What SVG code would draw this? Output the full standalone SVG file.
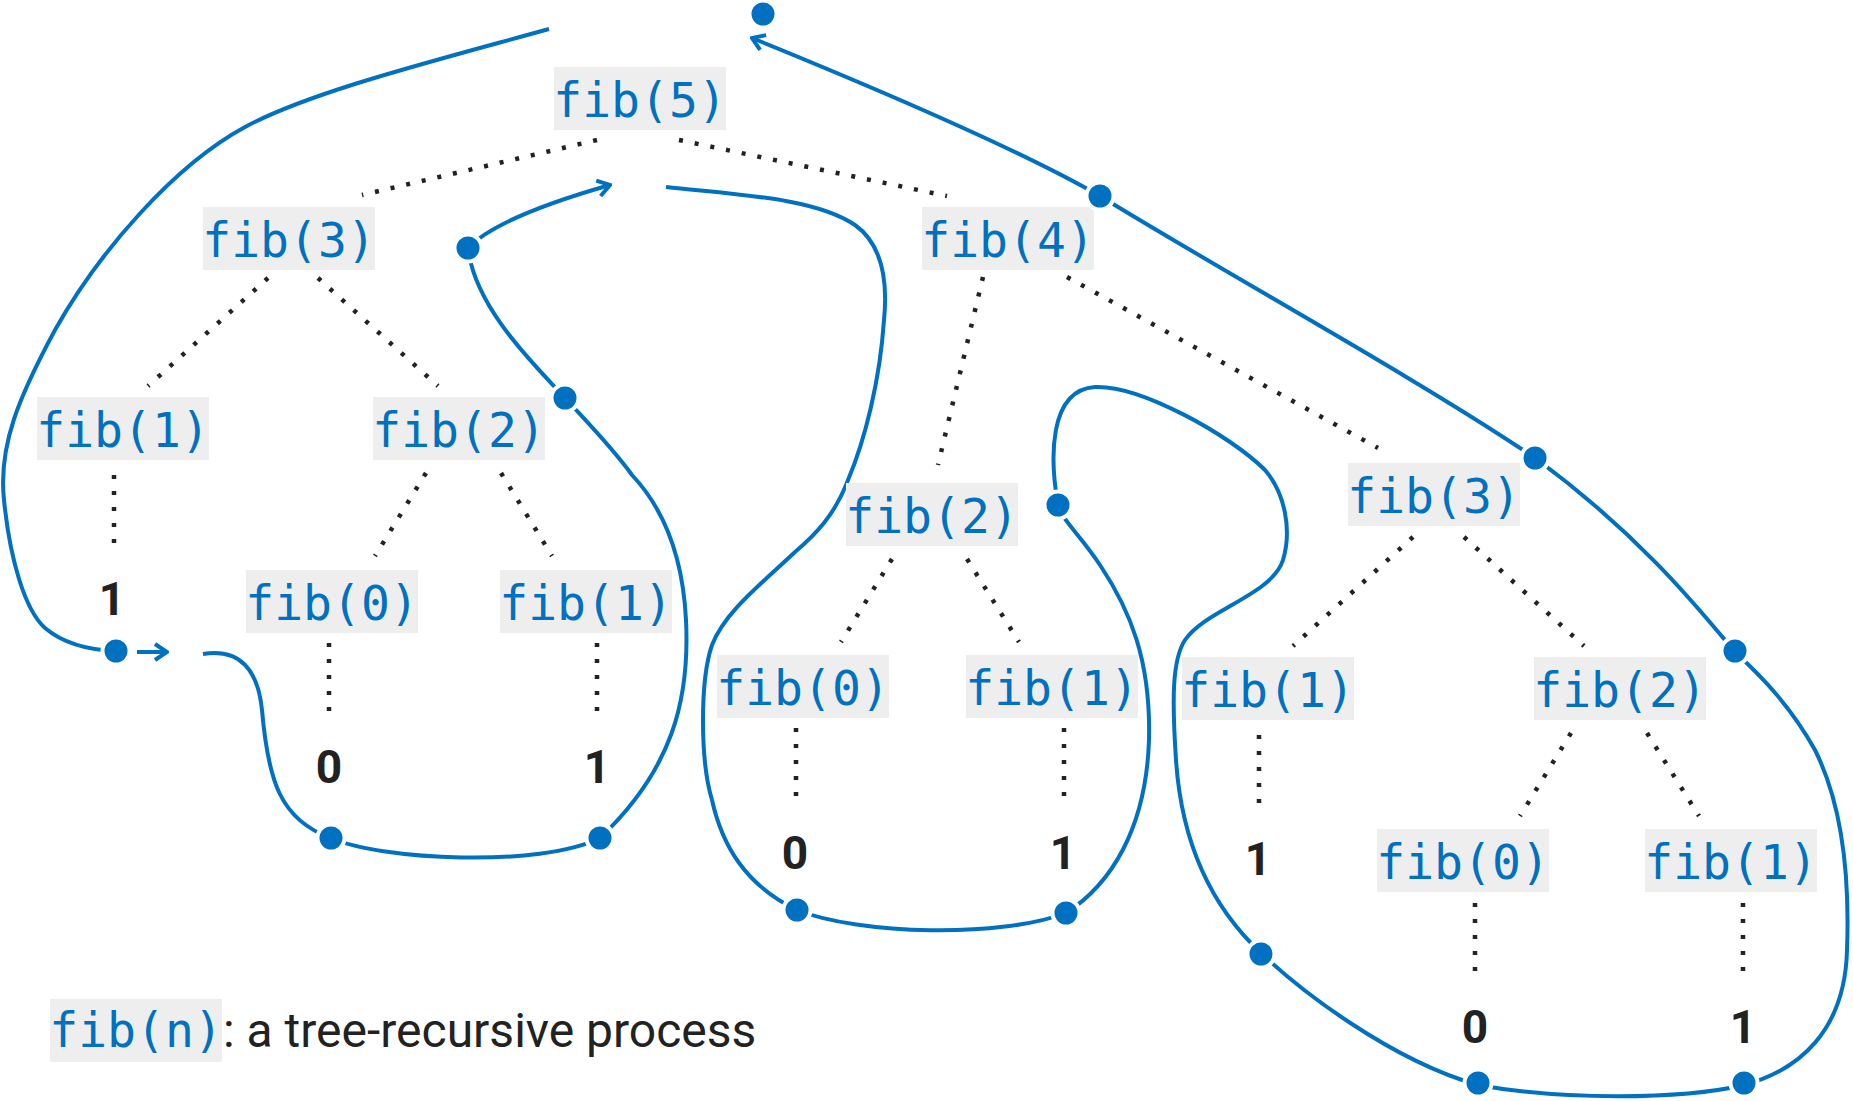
<svg xmlns="http://www.w3.org/2000/svg" width="1853" height="1101" viewBox="0 0 1853 1101">
  <style>
    .box { fill: #eeeeee; }
    .call { font-family: "DejaVu Sans Mono", "Liberation Mono", monospace; font-size: 48px; fill: #0070c0; text-anchor: middle; }
    .val { font-family: Roboto, "Liberation Sans", sans-serif; font-weight: bold; font-size: 46px; fill: #222222; text-anchor: middle; }
    .edge { stroke: #222222; stroke-width: 4.5; stroke-dasharray: 4 12; fill: none; }
    .tour { stroke: #0070c0; stroke-width: 4; fill: none; }
    .pt { fill: #0070c0; stroke: #ffffff; stroke-width: 4; }
    .caption { font-family: Roboto, "Liberation Sans", sans-serif; font-size: 48px; fill: #222222; }
  </style>
  <defs>
    <marker id="head" viewBox="-15 -10 17 20" refX="0" refY="0" markerWidth="17" markerHeight="20" markerUnits="userSpaceOnUse" orient="auto">
      <path d="M-12,-8 L0,0 L-12,8" fill="none" stroke="#0070c0" stroke-width="4" stroke-linejoin="miter"/>
    </marker>
  </defs>
  <rect width="1853" height="1101" fill="#ffffff"/>

  <!-- call tree edges -->
  <g id="connectors">
    <g id="tree-edges">
      <line class="edge" x1="597" y1="140" x2="362" y2="195"/>
      <line class="edge" x1="679" y1="140" x2="947" y2="196"/>
      <line class="edge" x1="268" y1="278" x2="148" y2="386"/>
      <line class="edge" x1="318" y1="278" x2="438" y2="386"/>
      <line class="edge" x1="114" y1="475" x2="114" y2="543"/>
      <line class="edge" x1="426" y1="473" x2="375" y2="556"/>
      <line class="edge" x1="501" y1="473" x2="552" y2="556"/>
      <line class="edge" x1="329" y1="643" x2="329" y2="711"/>
      <line class="edge" x1="597" y1="643" x2="597" y2="711"/>
      <line class="edge" x1="983" y1="277" x2="938" y2="465"/>
      <line class="edge" x1="1067" y1="277" x2="1378" y2="448"/>
      <line class="edge" x1="892" y1="559" x2="841" y2="642"/>
      <line class="edge" x1="967" y1="559" x2="1019" y2="642"/>
      <line class="edge" x1="796" y1="728" x2="796" y2="796"/>
      <line class="edge" x1="1064" y1="728" x2="1064" y2="796"/>
      <line class="edge" x1="1413" y1="537" x2="1293" y2="646"/>
      <line class="edge" x1="1464" y1="537" x2="1584" y2="646"/>
      <line class="edge" x1="1259" y1="735" x2="1259" y2="803"/>
      <line class="edge" x1="1571" y1="733" x2="1520" y2="816"/>
      <line class="edge" x1="1647" y1="733" x2="1699" y2="816"/>
      <line class="edge" x1="1475" y1="903" x2="1475" y2="971"/>
      <line class="edge" x1="1743" y1="903" x2="1743" y2="971"/>
    </g>

    <!-- evaluation order traced around the tree -->
    <g id="evaluation-path">
      <path class="tour" d="M549,29 C430,62 310,92 245,127 C175,165 100,250 55,330 C20,395 -2,445 4,500 C10,560 25,610 45,628 C65,645 90,650 116,651"/>
      <path class="tour" d="M137,652 L167,652" marker-end="url(#head)"/>
      <path class="tour" d="M203,654 C240,648 258,670 262,710 C268,780 280,820 331,838 C380,860 540,868 600,838 C672,770 690,700 686,620 C683,560 665,510 632,475 C610,445 585,420 565,398 C540,370 475,310 468,248 C490,225 540,205 610,185" marker-end="url(#head)"/>
      <path class="tour" d="M666,187 C740,195 815,198 855,225 C890,250 886,300 884,320 C880,380 865,440 848,480 C835,515 815,535 795,552 C760,585 725,612 712,645 C700,680 700,760 712,800 C722,845 745,885 797,910 C860,935 1000,938 1066,913 C1110,885 1146,830 1149,740 C1151,660 1130,610 1100,565 C1080,535 1062,520 1058,505 C1050,460 1048,390 1095,387 C1140,385 1230,435 1265,470 C1285,493 1292,530 1283,560 C1272,595 1205,610 1185,640 C1172,660 1172,700 1176,760 C1182,850 1215,910 1261,953 C1300,990 1390,1060 1478,1085 C1560,1100 1680,1100 1744,1085 C1800,1070 1845,1030 1847,950 C1850,870 1840,800 1815,750 C1790,705 1760,675 1735,652 C1700,610 1640,535 1535,458 C1420,380 1220,270 1100,196 C1020,150 880,90 752,38" marker-end="url(#head)"/>
    </g>
  </g>

  <!-- calls -->
  <g id="fib5"><rect class="box" x="554" y="67" width="172" height="63"/><text class="call" x="640" y="117">fib(5)</text></g>
  <g id="fib3-a"><rect class="box" x="203" y="207" width="172" height="63"/><text class="call" x="289" y="257">fib(3)</text></g>
  <g id="fib4"><rect class="box" x="922" y="207" width="172" height="63"/><text class="call" x="1008" y="257">fib(4)</text></g>
  <g id="fib1-a"><rect class="box" x="37" y="397" width="172" height="63"/><text class="call" x="123" y="447">fib(1)</text></g>
  <g id="fib2-a"><rect class="box" x="373" y="397" width="172" height="63"/><text class="call" x="459" y="447">fib(2)</text></g>
  <g id="fib0-a"><rect class="box" x="246" y="570" width="172" height="63"/><text class="call" x="332" y="620">fib(0)</text></g>
  <g id="fib1-b"><rect class="box" x="500" y="570" width="172" height="63"/><text class="call" x="586" y="620">fib(1)</text></g>
  <g id="fib2-b"><rect class="box" x="846" y="483" width="172" height="63"/><text class="call" x="932" y="533">fib(2)</text></g>
  <g id="fib0-b"><rect class="box" x="717" y="655" width="172" height="63"/><text class="call" x="803" y="705">fib(0)</text></g>
  <g id="fib1-c"><rect class="box" x="966" y="655" width="172" height="63"/><text class="call" x="1052" y="705">fib(1)</text></g>
  <g id="fib3-b"><rect class="box" x="1348" y="463" width="172" height="63"/><text class="call" x="1434" y="513">fib(3)</text></g>
  <g id="fib1-d"><rect class="box" x="1182" y="657" width="172" height="63"/><text class="call" x="1268" y="707">fib(1)</text></g>
  <g id="fib2-c"><rect class="box" x="1534" y="657" width="172" height="63"/><text class="call" x="1620" y="707">fib(2)</text></g>
  <g id="fib0-c"><rect class="box" x="1377" y="829" width="172" height="63"/><text class="call" x="1463" y="879">fib(0)</text></g>
  <g id="fib1-e"><rect class="box" x="1645" y="829" width="172" height="63"/><text class="call" x="1731" y="879">fib(1)</text></g>

  <!-- base-case values -->
  <g id="val-1a"><text class="val" x="112" y="615">1</text></g>
  <g id="val-0a"><text class="val" x="329" y="783">0</text></g>
  <g id="val-1b"><text class="val" x="597" y="783">1</text></g>
  <g id="val-0b"><text class="val" x="795" y="869">0</text></g>
  <g id="val-1c"><text class="val" x="1063" y="869">1</text></g>
  <g id="val-1d"><text class="val" x="1258" y="875">1</text></g>
  <g id="val-0c"><text class="val" x="1475" y="1043">0</text></g>
  <g id="val-1e"><text class="val" x="1743" y="1043">1</text></g>

  <!-- stops along the evaluation path -->
  <g id="path-points">
    <circle class="pt" cx="763" cy="14" r="13.5"/>
    <circle class="pt" cx="1100" cy="196" r="13.5"/>
    <circle class="pt" cx="1535" cy="458" r="13.5"/>
    <circle class="pt" cx="1735" cy="651" r="13.5"/>
    <circle class="pt" cx="1744" cy="1083" r="13.5"/>
    <circle class="pt" cx="1478" cy="1083" r="13.5"/>
    <circle class="pt" cx="1261" cy="954" r="13.5"/>
    <circle class="pt" cx="1058" cy="505" r="13.5"/>
    <circle class="pt" cx="1066" cy="913" r="13.5"/>
    <circle class="pt" cx="797" cy="910" r="13.5"/>
    <circle class="pt" cx="600" cy="838" r="13.5"/>
    <circle class="pt" cx="331" cy="838" r="13.5"/>
    <circle class="pt" cx="116" cy="651" r="13.5"/>
    <circle class="pt" cx="468" cy="248" r="13.5"/>
    <circle class="pt" cx="565" cy="398" r="13.5"/>
  </g>

  <!-- caption -->
  <g id="legend">
    <rect class="box" x="50" y="999" width="172" height="63"/>
    <text class="call" x="136" y="1047">fib(n)</text>
    <text class="caption" x="223" y="1047">: a tree-recursive process</text>
  </g>
</svg>
